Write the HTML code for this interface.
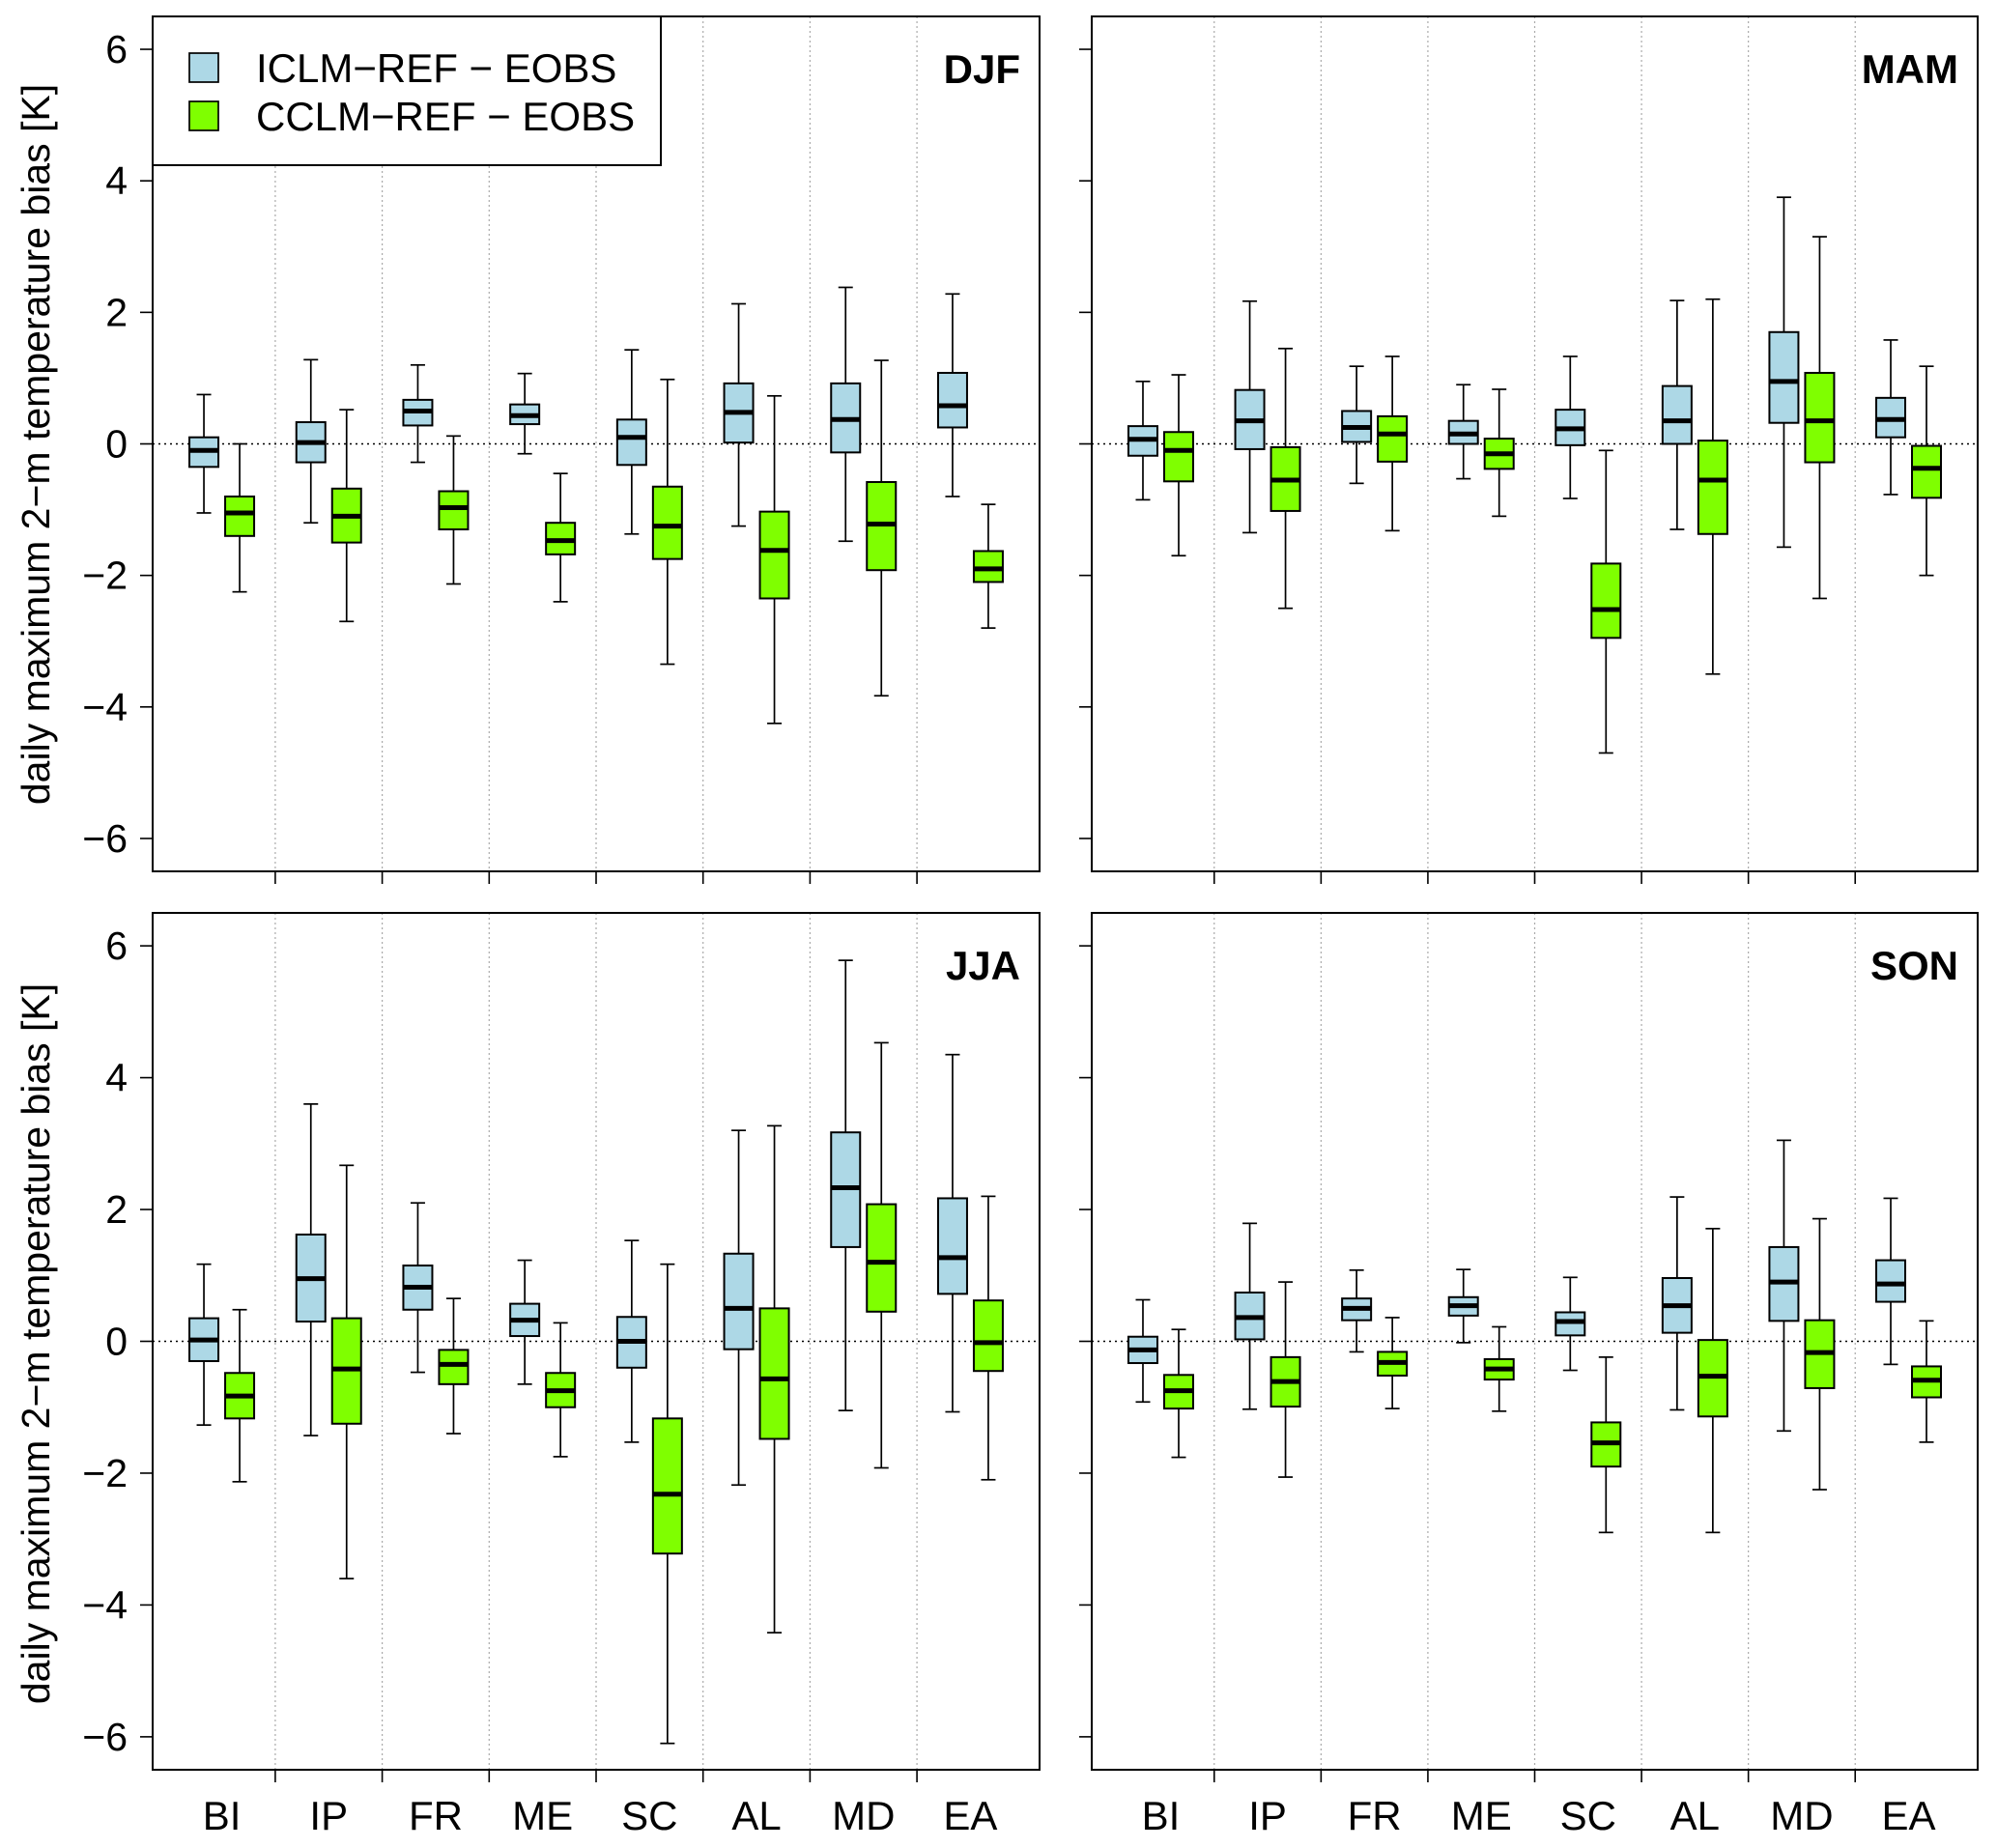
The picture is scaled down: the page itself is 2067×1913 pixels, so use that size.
<!DOCTYPE html>
<html><head><meta charset="utf-8"><style>
html,body{margin:0;padding:0;background:#fff}
svg{display:block;font-family:"Liberation Sans",Arial,sans-serif}
</style></head><body>
<svg id="chart" width="2067" height="1913" viewBox="0 0 2067 1913" xmlns="http://www.w3.org/2000/svg">
<rect x="0" y="0" width="2067" height="1913" fill="#fff"/>
<text transform="translate(51,460) rotate(-90)" text-anchor="middle" font-size="41">daily maximum 2−m temperature bias [K]</text>
<text transform="translate(51,1391) rotate(-90)" text-anchor="middle" font-size="41">daily maximum 2−m temperature bias [K]</text>
</svg>
<script>
const categories = ["BI","IP","FR","ME","SC","AL","MD","EA"];
const seasons = ["DJF","MAM","JJA","SON"];
const yTicks = [-6,-4,-2,0,2,4,6];
const yTickLabels = ["−6","−4","−2","0","2","4","6"];
const seriesNames = ["ICLM−REF − EOBS","CCLM−REF − EOBS"];
// each stat: [low whisker, q1, median, q3, high whisker]
const djfBlue = [[-1.05,-0.35,-0.1,0.1,0.75],[-1.2,-0.28,0.02,0.33,1.28],[-0.28,0.28,0.5,0.67,1.2],[-0.15,0.3,0.43,0.6,1.07],[-1.37,-0.32,0.1,0.37,1.43],[-1.25,0.02,0.48,0.92,2.13],[-1.48,-0.13,0.37,0.92,2.38],[-0.8,0.25,0.58,1.08,2.28]];
const djfGreen = [[-2.25,-1.4,-1.05,-0.8,0],[-2.7,-1.5,-1.1,-0.68,0.52],[-2.13,-1.3,-0.97,-0.72,0.12],[-2.4,-1.68,-1.47,-1.2,-0.45],[-3.35,-1.75,-1.25,-0.65,0.98],[-4.25,-2.35,-1.62,-1.03,0.73],[-3.83,-1.92,-1.22,-0.58,1.27],[-2.8,-2.1,-1.9,-1.63,-0.92]];
const mamBlue = [[-0.85,-0.18,0.07,0.27,0.95],[-1.35,-0.08,0.35,0.82,2.17],[-0.6,0.03,0.25,0.5,1.18],[-0.53,0,0.15,0.35,0.9],[-0.83,-0.02,0.23,0.52,1.33],[-1.3,0,0.35,0.88,2.18],[-1.57,0.32,0.95,1.7,3.75],[-0.77,0.1,0.37,0.7,1.58]];
const mamGreen = [[-1.7,-0.57,-0.1,0.18,1.05],[-2.5,-1.02,-0.55,-0.05,1.45],[-1.32,-0.27,0.15,0.42,1.33],[-1.1,-0.38,-0.15,0.08,0.83],[-4.7,-2.95,-2.52,-1.82,-0.1],[-3.5,-1.37,-0.55,0.05,2.2],[-2.35,-0.28,0.35,1.08,3.15],[-2.0,-0.82,-0.37,-0.03,1.18]];
const jjaBlue = [[-1.27,-0.3,0.02,0.35,1.17],[-1.43,0.3,0.95,1.62,3.6],[-0.47,0.48,0.82,1.15,2.1],[-0.65,0.08,0.32,0.57,1.23],[-1.53,-0.4,0,0.37,1.53],[-2.18,-0.12,0.5,1.33,3.2],[-1.05,1.43,2.33,3.17,5.78],[-1.07,0.72,1.27,2.17,4.35]];
const jjaGreen = [[-2.13,-1.17,-0.83,-0.48,0.48],[-3.6,-1.25,-0.42,0.35,2.67],[-1.4,-0.65,-0.35,-0.13,0.65],[-1.75,-1.0,-0.75,-0.48,0.28],[-6.1,-3.22,-2.32,-1.17,1.17],[-4.42,-1.48,-0.57,0.5,3.27],[-1.92,0.45,1.2,2.08,4.53],[-2.1,-0.45,-0.02,0.62,2.2]];
const sonBlue = [[-0.92,-0.33,-0.13,0.07,0.63],[-1.03,0.03,0.36,0.74,1.79],[-0.16,0.32,0.5,0.65,1.08],[-0.02,0.39,0.54,0.67,1.09],[-0.44,0.09,0.3,0.44,0.97],[-1.04,0.13,0.54,0.96,2.19],[-1.36,0.31,0.9,1.43,3.05],[-0.35,0.6,0.87,1.23,2.17]];
const sonGreen = [[-1.76,-1.02,-0.75,-0.51,0.18],[-2.06,-0.99,-0.61,-0.24,0.9],[-1.02,-0.52,-0.32,-0.16,0.36],[-1.06,-0.58,-0.42,-0.27,0.22],[-2.9,-1.9,-1.54,-1.23,-0.24],[-2.9,-1.14,-0.53,0.02,1.71],[-2.25,-0.71,-0.17,0.32,1.86],[-1.53,-0.85,-0.59,-0.38,0.31]];

const NS = "http://www.w3.org/2000/svg";
const svg = document.getElementById('chart');
const blueData = [djfBlue, mamBlue, jjaBlue, sonBlue];
const greenData = [djfGreen, mamGreen, jjaGreen, sonGreen];
const panels = [{x0:158,x1:1076,y0:17,y1:902},{x0:1130,x1:2047,y0:17,y1:902},{x0:158,x1:1076,y0:945,y1:1832},{x0:1130,x1:2047,y0:945,y1:1832}];
function mk(tag, attrs, parent){const e=document.createElementNS(NS,tag);for(const k in attrs)e.setAttribute(k,attrs[k]);(parent||svg).appendChild(e);return e;}

panels.forEach((p, pi) => {
  const g = mk('g', {});
  
  
  const ys = v => p.y0 + (6.5 - v) / 13 * (p.y1 - p.y0);
  const step = (p.x1 - p.x0 - 32.4) / categories.length;
  const xc = i => p.x0 + 16.2 + step * (i + 0.5);
  for (let i = 1; i < categories.length; i++) {
    const x = p.x0 + 16.2 + step * i;
    const l = mk('line', {x1:x, x2:x, y1:p.y0, y2:p.y1, stroke:'#aaa', 'stroke-width':1.2, 'stroke-dasharray':'2,3'}, g);
    
    
    const t = mk('line', {x1:x, x2:x, y1:p.y1, y2:p.y1+13, stroke:'#000', 'stroke-width':1.6}, g);
    
    
  }
  const z = mk('line', {x1:p.x0, x2:p.x1, y1:ys(0), y2:ys(0), stroke:'#000', 'stroke-width':1.6, 'stroke-dasharray':'2,4'}, g);
  
  
  yTicks.forEach((v, k) => {
    const t = mk('line', {x1:p.x0-13, x2:p.x0, y1:ys(v), y2:ys(v), stroke:'#000', 'stroke-width':1.6}, g);
    
    
    if (pi % 2 === 0) {
      const tx = mk('text', {x:p.x0-26, y:ys(v)+14, 'text-anchor':'end', 'font-size':41}, g);
      tx.textContent = yTickLabels[k];
      
      
    }
  });
  const drawBox = (s, cx, fill, name) => {
    const bw = 30, cap = 15;
    const bg = mk('g', {}, g);
    
    
    mk('line', {x1:cx, x2:cx, y1:ys(s[0]), y2:ys(s[1]), stroke:'#000', 'stroke-width':1.7}, bg);
    mk('line', {x1:cx, x2:cx, y1:ys(s[3]), y2:ys(s[4]), stroke:'#000', 'stroke-width':1.7}, bg);
    mk('line', {x1:cx-cap/2, x2:cx+cap/2, y1:ys(s[0]), y2:ys(s[0]), stroke:'#000', 'stroke-width':1.7}, bg);
    mk('line', {x1:cx-cap/2, x2:cx+cap/2, y1:ys(s[4]), y2:ys(s[4]), stroke:'#000', 'stroke-width':1.7}, bg);
    mk('rect', {x:cx-bw/2, y:ys(s[3]), width:bw, height:ys(s[1])-ys(s[3]), fill:fill, stroke:'#000', 'stroke-width':2}, bg);
    mk('line', {x1:cx-bw/2, x2:cx+bw/2, y1:ys(s[2]), y2:ys(s[2]), stroke:'#000', 'stroke-width':5}, bg);
  };
  categories.forEach((c, i) => {
    drawBox(blueData[pi][i], xc(i) - 18.5, '#add8e6', 'box-iclm-' + c.toLowerCase());
    drawBox(greenData[pi][i], xc(i) + 18.5, '#7fff00', 'box-cclm-' + c.toLowerCase());
    if (pi >= 2) {
      const tx = mk('text', {x:xc(i), y:1894, 'text-anchor':'middle', 'font-size':42}, g);
      tx.textContent = c;
      
      
    }
  });
  const fr = mk('rect', {x:p.x0, y:p.y0, width:p.x1-p.x0, height:p.y1-p.y0, fill:'none', stroke:'#000', 'stroke-width':2}, g);
  
  
  const st = mk('text', {x:p.x1-20, y:p.y0+69, 'text-anchor':'end', 'font-size':42, 'font-weight':'bold'}, g);
  st.textContent = seasons[pi];
  
  
});

const lg = mk('g', {});


mk('rect', {x:158, y:17, width:526, height:154, fill:'#fff', stroke:'#000', 'stroke-width':2}, lg);
[['#add8e6',70],['#7fff00',120]].forEach((d, k) => {
  const e = mk('g', {}, lg);
  
  
  mk('rect', {x:196, y:d[1]-15, width:30, height:30, fill:d[0], stroke:'#000', 'stroke-width':1.7}, e);
  const t = mk('text', {x:265, y:d[1]+15, 'font-size':42}, e);
  t.textContent = seriesNames[k];
});
</script>
</body></html>
